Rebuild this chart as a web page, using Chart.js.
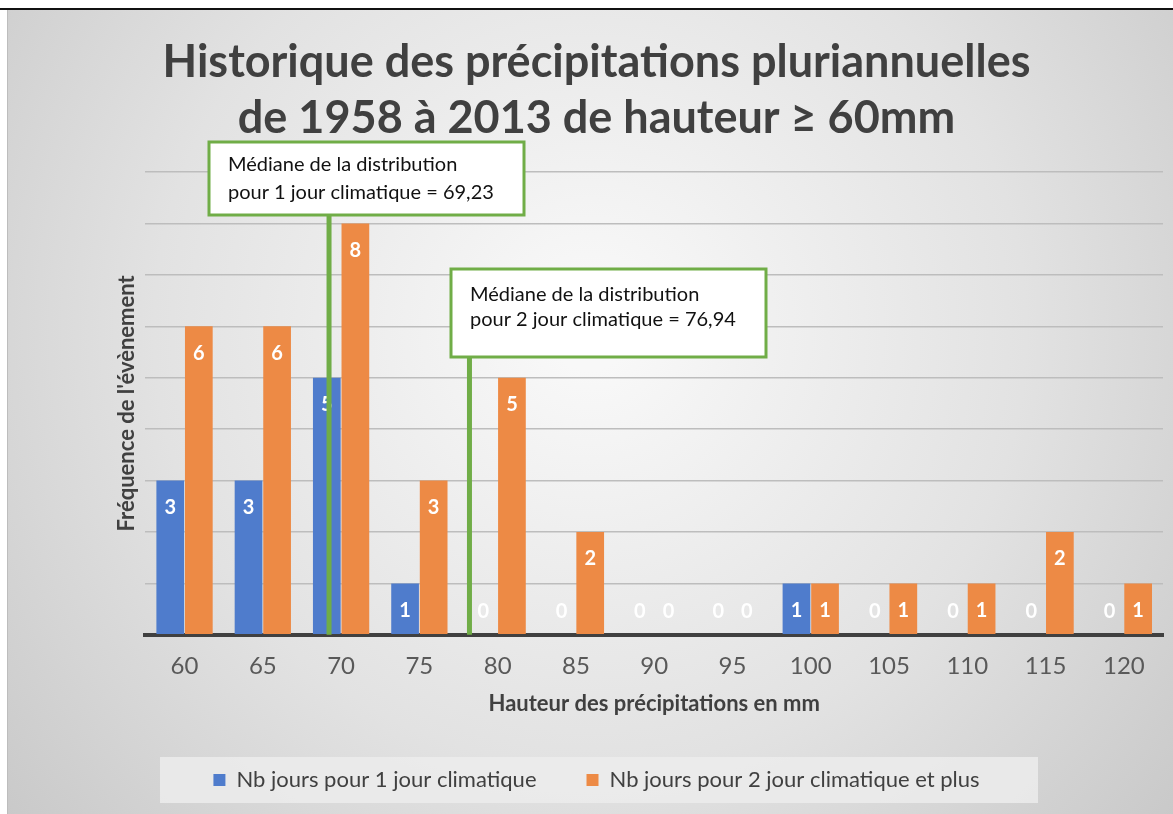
<!DOCTYPE html>
<html lang="fr">
<head>
<meta charset="utf-8">
<title>Historique des précipitations</title>
<script src="https://cdn.jsdelivr.net/npm/chart.js@4.4.0/dist/chart.umd.min.js"></script>
<style>
    html, body { margin: 0; padding: 0; background: #fff; overflow: hidden; }
    #wrap { position: relative; width: 1173px; height: 814px; }
</style>
</head>
<body>
<div id="wrap"><canvas id="pluie"></canvas></div>
<script>
// données
const hauteurs = ['60', '65', '70', '75', '80', '85', '90', '95', '100', '105', '110', '115', '120'];
const unJour = [3, 3, 5, 1, 0, 0, 0, 0, 1, 0, 0, 0, 0];
const deuxJours = [6, 6, 8, 3, 5, 2, 0, 0, 1, 1, 1, 2, 1];
const medianes = [69.23, 76.94];
// position des traits verts telle que tracée sur l'original (mm)
const traitsMedianes = [69.23, 78.2];
const textesMedianes = [
    ['Médiane de la distribution', 'pour 1 jour climatique = 69,23'],
    ['Médiane de la distribution', 'pour 2 jour climatique = 76,94']
];

const vert = '#70ad47';
const legendePadding = 50;
Chart.defaults.font.family = 'Lato, "Open Sans", sans-serif';

// fond dégradé + cadre de la légende
const fondPlugin = {
    id: 'fond',
    beforeDraw(chart) {
        const ctx = chart.ctx;
        ctx.save();
        ctx.fillStyle = '#ffffff';
        ctx.fillRect(0, 0, chart.width, chart.height);
        const g = ctx.createRadialGradient(590, 330, 40, 590, 330, 760);
        g.addColorStop(0, '#f8f8f8');
        g.addColorStop(0.55, '#e2e2e2');
        g.addColorStop(1, '#c9c9c9');
        ctx.fillStyle = g;
        ctx.fillRect(8, 10, chart.width - 8, chart.height - 10);
        ctx.fillStyle = '#111';
        ctx.fillRect(0, 8, chart.width, 2);
        ctx.fillStyle = '#bdbdbd';
        ctx.fillRect(7, 10, 1, chart.height - 10);
        // cadre légende
        const lg = chart.legend;
        const cy = lg.top + legendePadding + 11;
        ctx.fillStyle = 'rgba(236,236,236,0.85)';
        ctx.fillRect(160, cy - 23, 878, 46);
        ctx.restore();
    }
};

// étiquettes blanches dans les barres
const etiquettesPlugin = {
    id: 'etiquettes',
    afterDatasetsDraw(chart) {
        const ctx = chart.ctx;
        ctx.save();
        ctx.fillStyle = '#ffffff';
        ctx.font = 'bold 20px Lato, sans-serif';
        ctx.textAlign = 'center';
        ctx.textBaseline = 'middle';
        chart.data.datasets.forEach((ds, i) => {
            chart.getDatasetMeta(i).data.forEach((bar, j) => {
                const y = Math.min(bar.y + 27, bar.base - 23);
                ctx.fillText(String(ds.data[j]), bar.x, y);
            });
        });
        ctx.restore();
    }
};

// traits et encadrés des médianes
const medianesPlugin = {
    id: 'medianes',
    afterDatasetsDraw(chart) {
        const ctx = chart.ctx;
        const x = chart.scales.x;
        const bas = chart.chartArea.bottom;
        const boites = [
            { x: 209, y: 142, w: 315, h: 73, l1: 23, l2: 51 },
            { x: 451, y: 269, w: 315, h: 88, l1: 26, l2: 51 }
        ];
        ctx.save();
        traitsMedianes.forEach((m, i) => {
            const px = x.getPixelForValue((m - 60) / 5);
            ctx.strokeStyle = vert;
            ctx.lineWidth = 5;
            ctx.beginPath();
            ctx.moveTo(px, boites[i].y + boites[i].h);
            ctx.lineTo(px, bas);
            ctx.stroke();
        });
        boites.forEach((b, i) => {
            ctx.fillStyle = '#ffffff';
            ctx.fillRect(b.x, b.y, b.w, b.h);
            ctx.strokeStyle = vert;
            ctx.lineWidth = 3;
            ctx.strokeRect(b.x, b.y, b.w, b.h);
            ctx.fillStyle = '#111';
            ctx.font = '20px Lato, sans-serif';
            ctx.textBaseline = 'middle';
            ctx.textAlign = 'left';
            ctx.fillText(textesMedianes[i][0], b.x + 19, b.y + b.l1);
            ctx.fillText(textesMedianes[i][1], b.x + 19, b.y + b.l2);
        });
        ctx.restore();
    }
};

const data = {
    labels: hauteurs,
    datasets: [
        {
            label: 'Nb jours pour 1 jour climatique',
            data: unJour,
            backgroundColor: '#4f7ccc',
            borderWidth: 0,
            barPercentage: 0.97,
            categoryPercentage: 0.73,
        },
        {
            label: 'Nb jours pour 2 jour climatique et plus',
            data: deuxJours,
            backgroundColor: '#ed8a45',
            borderWidth: 0,
            barPercentage: 0.97,
            categoryPercentage: 0.73,
        }
    ]
};

const config = {
    type: 'bar',
    data: data,
    options: {
        responsive: true,
        maintainAspectRatio: false,
        animation: false,
        layout: {
            padding: { top: 0, left: 30, right: 10, bottom: 13 }
        },
        plugins: {
            tooltip: { enabled: false },
            title: {
                display: true,
                text: ['Historique des précipitations pluriannuelles', 'de 1958 à 2013 de hauteur ≥ 60mm'],
                color: '#404040',
                font: { size: 45, weight: 'bold', lineHeight: 1.245 },
                padding: { top: 34, bottom: 26 },
            },
            legend: {
                position: 'bottom',
                labels: {
                    boxWidth: 12,
                    boxHeight: 12,
                    padding: legendePadding,
                    color: '#404040',
                    font: { size: 22 },
                },
            },
        },
        scales: {
            x: {
                grid: { display: false, drawTicks: false },
                border: { display: true, color: '#404040', width: 4 },
                ticks: {
                    color: '#595959',
                    font: { size: 24 },
                    padding: 17,
                },
                title: {
                    display: true,
                    text: 'Hauteur des précipitations en mm',
                    color: '#404040',
                    font: { size: 22, weight: 'bold' },
                    padding: { top: -7, bottom: 2 },
                },
            },
            y: {
                min: 0,
                max: 9,
                ticks: { display: false, stepSize: 1 },
                grid: { color: '#bdbdbd', lineWidth: 1.5, drawTicks: false },
                border: { display: false },
                title: {
                    display: true,
                    text: "Fréquence de l'évènement",
                    color: '#404040',
                    font: { size: 22, weight: 'bold' },
                    padding: { top: 84, bottom: 5 },
                },
            },
        },
    },
    plugins: [fondPlugin, etiquettesPlugin, medianesPlugin],
};

var ctx = document.getElementById('pluie').getContext('2d');
var graphique = new Chart(ctx, config);
</script>
</body>
</html>
